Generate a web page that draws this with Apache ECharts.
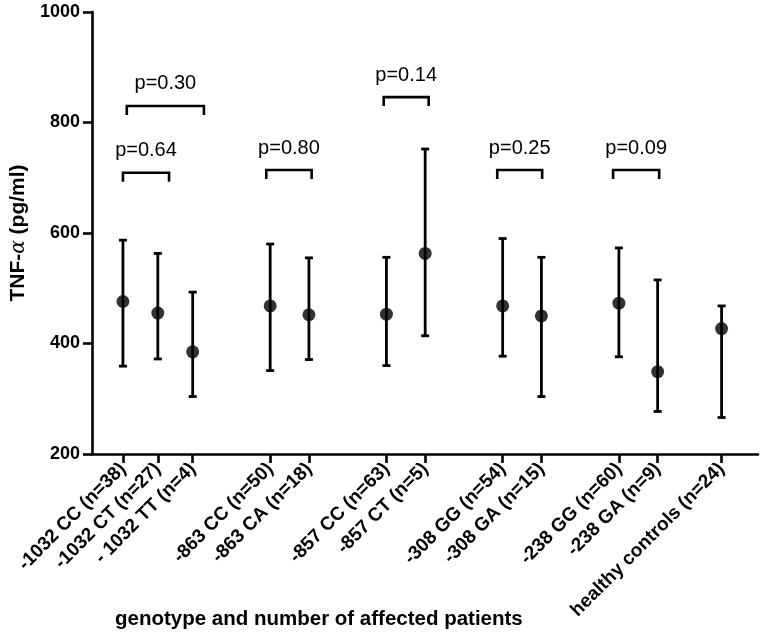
<!DOCTYPE html>
<html>
<head>
<meta charset="utf-8">
<script src="https://cdn.jsdelivr.net/npm/echarts@6/dist/echarts.min.js"></script>
<style>html,body{margin:0;padding:0;background:#fff;}#c{width:762px;height:634px;}</style>
</head>
<body>
<div id="c"></div>
<script>
// ---- data ----
const categories = ['-1032 CC (n=38)', '-1032 CT (n=27)', '- 1032 TT (n=4)', '-863 CC (n=50)', '-863 CA (n=18)', '-857 CC (n=63)', '-857 CT (n=5)', '-308 GG (n=54)', '-308 GA (n=15)', '-238 GG (n=60)', '-238 GA (n=9)', 'healthy controls (n=24)'];
const slots = [0, 0.9, 1.8, 3.8, 4.8, 6.8, 7.8, 9.8, 10.8, 12.8, 13.8, 15.45];
const means = [476, 455, 385, 468, 452, 453, 563, 468, 450, 473, 349, 427];
const upper = [587, 563, 493, 580, 555, 556, 752, 590, 556, 573, 515, 468];
const lower = [359, 372, 304, 351, 371, 360, 414, 377, 304, 376, 277, 266];
const bracketFrom = [0, 0.1, 3.7, 6.73, 9.66, 12.65];
const bracketTo = [1.19, 2.09, 4.87, 7.89, 10.82, 13.84];
const bracketLevel = [709, 830, 714, 846, 714, 714];
const pLabels = ['p=0.64', 'p=0.30', 'p=0.80', 'p=0.14', 'p=0.25', 'p=0.09'];
const yTicks = [200, 400, 600, 800, 1000];

const chart = echarts.init(document.getElementById('c'), null, {renderer: 'canvas'});
const FONT = 'Liberation Sans, Arial, Helvetica, sans-serif';

const errData = slots.map((s, i) => [s, lower[i], upper[i]]);
const meanData = slots.map((s, i) => [s, means[i]]);
const brData = bracketFrom.map((f, i) => [f, bracketTo[i], bracketLevel[i]]);

chart.setOption({
  animation: false,
  backgroundColor: '#fff',
  grid: {left: 91, right: 4, top: 12, bottom: 180, containLabel: false},
  xAxis: {
    type: 'value', min: -0.8, max: 16.39,
    splitLine: {show: false},
    axisLine: {onZero: false, lineStyle: {color: '#000', width: 2.6}},
    axisTick: {show: true, customValues: slots, length: 9, lineStyle: {color: '#000', width: 2.6}},
    axisLabel: {
      customValues: slots, rotate: 45, margin: 12,
      color: '#000', fontFamily: FONT, fontWeight: 'bold', fontSize: 19,
      formatter: v => { const i = slots.indexOf(v); return i >= 0 ? categories[i] : ''; }
    }
  },
  yAxis: {
    type: 'value', min: 200, max: 1000, interval: 200,
    splitLine: {show: false},
    axisLine: {show: true, onZero: false, lineStyle: {color: '#000', width: 2.6}},
    axisTick: {show: true, length: 9, lineStyle: {color: '#000', width: 2.6}},
    axisLabel: {color: '#000', fontFamily: FONT, fontWeight: 'bold', fontSize: 18, margin: 12,
      formatter: v => yTicks.indexOf(v) >= 0 ? String(v) : ''},
    name: '{b|TNF-}{a|α}{b| (pg/ml)}',
    nameLocation: 'middle', nameGap: 59, nameRotate: 90,
    nameTextStyle: {
      rich: {
        b: {fontFamily: FONT, fontWeight: 'bold', fontSize: 21, color: '#000'},
        a: {fontFamily: 'DejaVu Serif', fontStyle: 'italic', fontWeight: 'normal', fontSize: 20, color: '#000'}
      }
    }
  },
  graphic: [{
    type: 'text', left: 115, top: 609,
    style: {text: 'genotype and number of affected patients', fontFamily: FONT, fontWeight: 'bold', fontSize: 20.5, fill: '#000'}
  }],
  series: [
    {
      type: 'custom',
      data: errData,
      renderItem: (params, api) => {
        const x = api.value(0);
        const lo = api.coord([x, api.value(1)]);
        const hi = api.coord([x, api.value(2)]);
        const cw = 4;
        const st = {stroke: '#000', lineWidth: 2.8, fill: null};
        return {type: 'group', children: [
          {type: 'line', shape: {x1: lo[0], y1: lo[1], x2: hi[0], y2: hi[1]}, style: st},
          {type: 'line', shape: {x1: hi[0] - cw, y1: hi[1], x2: hi[0] + cw, y2: hi[1]}, style: st},
          {type: 'line', shape: {x1: lo[0] - cw, y1: lo[1], x2: lo[0] + cw, y2: lo[1]}, style: st}
        ]};
      },
      z: 2
    },
    {
      type: 'scatter', data: meanData, symbol: 'circle', symbolSize: 13,
      itemStyle: {color: '#000'}, z: 3
    },
    {
      type: 'custom',
      data: brData,
      renderItem: (params, api) => {
        const a = api.coord([api.value(0), api.value(2)]);
        const b = api.coord([api.value(1), api.value(2)]);
        const leg = 9;
        return {type: 'group', children: [
          {type: 'polyline', shape: {points: [[a[0], a[1] + leg], [a[0], a[1]], [b[0], a[1]], [b[0], a[1] + leg]]},
           style: {stroke: '#000', lineWidth: 2.6, fill: null}},
          {type: 'text', x: (a[0] + b[0]) / 2, y: a[1] - 22,
           style: {text: pLabels[params.dataIndex], fontFamily: FONT, fontSize: 20, fill: '#000', align: 'center', verticalAlign: 'middle'}}
        ]};
      },
      z: 2
    }
  ]
});
</script>
</body>
</html>
